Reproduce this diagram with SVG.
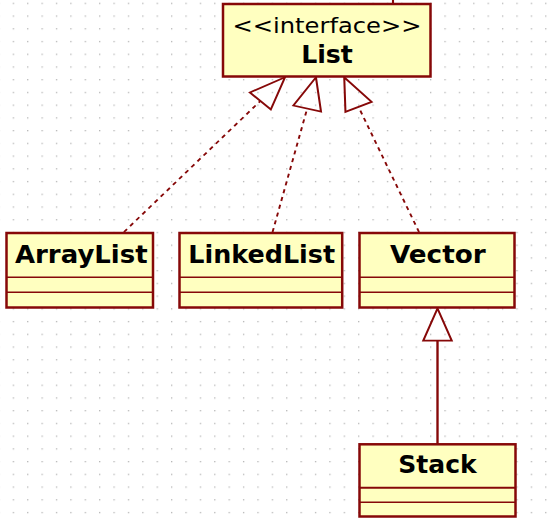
<svg xmlns="http://www.w3.org/2000/svg" width="554" height="523" viewBox="0 0 554 523">
<style>
.box{fill:#ffffc0;stroke:#860808;stroke-width:2.5}
.div{stroke:#860808;stroke-width:1.4}
.name{font-family:"DejaVu Sans","Verdana",sans-serif;font-weight:bold;font-size:24.5px;fill:#000;text-anchor:middle}
.stereo{font-family:"DejaVu Sans","Verdana",sans-serif;font-size:21px;fill:#000;text-anchor:middle}
.real{fill:none;stroke:#860808;stroke-width:1.7;stroke-dasharray:4 4}
.gen{fill:none;stroke:#860808;stroke-width:2.1}
</style>
<defs>
<pattern id="grid" patternUnits="userSpaceOnUse" x="12.7" y="2.7" width="14.39" height="12.73">
<rect x="0" y="0" width="1.3" height="1.3" fill="#b5b5b5"/>
</pattern>
<marker id="tri" markerUnits="userSpaceOnUse" viewBox="-3 -16 40 32" markerWidth="40" markerHeight="32" refX="0" refY="0" orient="auto" overflow="visible">
<path d="M0,-12.6 L32.2,0 L0,12.6 Z" fill="none" stroke="#860808" stroke-width="1.8"/>
</marker>
</defs>
<rect width="554" height="523" fill="#fff"/>
<rect width="554" height="523" fill="url(#grid)"/>

<g id="connectors">
<line x1="393" y1="0" x2="393" y2="4" class="gen"/>
<g transform="scale(1.13 1)">
<line x1="109.7" y1="232" x2="230.38" y2="100.99" class="real" marker-end="url(#tri)"/>
<line x1="241.2" y1="232" x2="271.85" y2="108.55" class="real" marker-end="url(#tri)"/>
<line x1="370.8" y1="232" x2="317.3" y2="106.9" class="real" marker-end="url(#tri)"/>
<line x1="387.17" y1="444" x2="387.17" y2="340.7" class="gen" marker-end="url(#tri)"/>
</g>
</g>

<g id="List">
<rect x="223" y="4" width="207.5" height="72.5" class="box"/>
<text x="327" y="33.3" class="stereo" textLength="189" lengthAdjust="spacingAndGlyphs">&lt;&lt;interface&gt;&gt;</text>
<text x="327" y="63.3" class="name" textLength="51.7" lengthAdjust="spacingAndGlyphs">List</text>
</g>

<g id="ArrayList">
<rect x="6.5" y="233" width="146.5" height="74.5" class="box"/>
<line x1="6.5" y1="277.2" x2="153" y2="277.2" class="div"/>
<line x1="6.5" y1="292.2" x2="153" y2="292.2" class="div"/>
<text x="81.3" y="263.3" class="name" textLength="132.7" lengthAdjust="spacingAndGlyphs">ArrayList</text>
</g>

<g id="LinkedList">
<rect x="179.5" y="233" width="162.7" height="74.5" class="box"/>
<line x1="179.5" y1="277.2" x2="342.2" y2="277.2" class="div"/>
<line x1="179.5" y1="292.2" x2="342.2" y2="292.2" class="div"/>
<text x="261.7" y="263.3" class="name" textLength="146.7" lengthAdjust="spacingAndGlyphs">LinkedList</text>
</g>

<g id="Vector">
<rect x="359.5" y="233" width="155" height="74.5" class="box"/>
<line x1="359.5" y1="277.2" x2="514.5" y2="277.2" class="div"/>
<line x1="359.5" y1="292.2" x2="514.5" y2="292.2" class="div"/>
<text x="437.8" y="263.3" class="name" textLength="95.7" lengthAdjust="spacingAndGlyphs">Vector</text>
</g>

<g id="Stack">
<rect x="359.5" y="444.3" width="156" height="72.2" class="box"/>
<line x1="359.5" y1="487.7" x2="515.5" y2="487.7" class="div" style="stroke-width:2"/>
<line x1="359.5" y1="502.3" x2="515.5" y2="502.3" class="div"/>
<text x="437.5" y="473.3" class="name" textLength="78.4" lengthAdjust="spacingAndGlyphs">Stack</text>
</g>
</svg>
